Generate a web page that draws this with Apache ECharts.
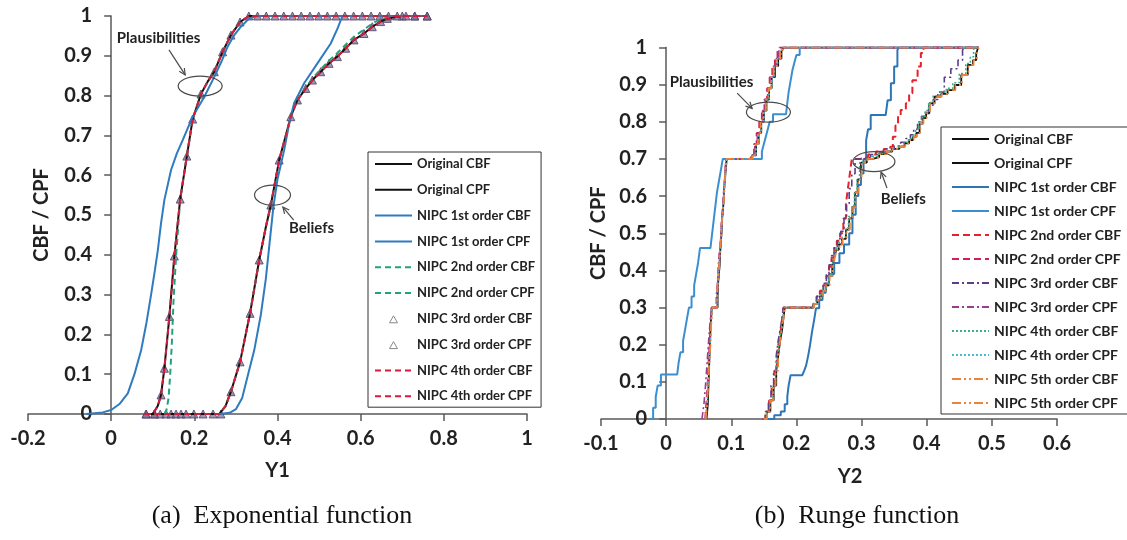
<!DOCTYPE html>
<html><head><meta charset="utf-8">
<script src="https://cdn.jsdelivr.net/npm/echarts@6/dist/echarts.min.js"></script>
<style>
html,body{margin:0;padding:0;background:#fff;width:1127px;height:540px;overflow:hidden}
#a{position:absolute;left:0;top:0;width:563px;height:540px}
#b{position:absolute;left:563px;top:0;width:564px;height:540px}
</style>
</head><body><div id="a"></div><div id="b"></div>
<script>
// ---------------- (a) Exponential function ----------------
const expNames = ['Original CBF','Original CPF','NIPC 1st order CBF','NIPC 1st order CPF','NIPC 2nd order CBF','NIPC 2nd order CPF','NIPC 3rd order CBF','NIPC 3rd order CPF','NIPC 4th order CBF','NIPC 4th order CPF'];
const expXTicks = {min:-0.2, max:1, interval:0.2};
const expOrigCBF = [[0.08,0],[0.26,0],[0.275,0.02],[0.288,0.056],[0.31,0.131],[0.334,0.253],[0.356,0.387],[0.372,0.47],[0.384,0.525],[0.404,0.638],[0.42,0.70],[0.432,0.747],[0.448,0.789],[0.468,0.818],[0.484,0.839],[0.504,0.86],[0.524,0.881],[0.544,0.898],[0.564,0.919],[0.584,0.94],[0.608,0.956],[0.628,0.973],[0.648,0.986],[0.664,0.994],[0.70,1],[0.76,1]];
const expOrigCPF = [[0.08,0],[0.10,0],[0.112,0.02],[0.12,0.048],[0.128,0.115],[0.14,0.245],[0.152,0.397],[0.166,0.54],[0.182,0.648],[0.196,0.741],[0.216,0.804],[0.232,0.835],[0.248,0.86],[0.268,0.91],[0.288,0.952],[0.31,0.985],[0.331,1],[0.76,1]];
const exp1CBF = [[0.26,0],[0.285,0.003],[0.30,0.012],[0.315,0.04],[0.328,0.094],[0.344,0.16],[0.36,0.25],[0.372,0.34],[0.382,0.44],[0.39,0.52],[0.40,0.59],[0.416,0.663],[0.43,0.74],[0.44,0.781],[0.464,0.831],[0.496,0.881],[0.528,0.931],[0.545,0.97],[0.556,1],[0.76,1]];
const exp1CPF = [[-0.06,0],[-0.04,0.002],[-0.02,0.004],[0,0.01],[0.02,0.025],[0.04,0.052],[0.056,0.1],[0.072,0.16],[0.085,0.23],[0.096,0.30],[0.105,0.36],[0.112,0.41],[0.12,0.48],[0.128,0.538],[0.144,0.613],[0.158,0.655],[0.172,0.688],[0.196,0.747],[0.224,0.797],[0.248,0.847],[0.265,0.885],[0.28,0.923],[0.296,0.952],[0.312,0.973],[0.332,0.994],[0.35,1],[0.60,1]];
const exp2CBF = [[0.08,0],[0.26,0],[0.275,0.02],[0.288,0.056],[0.31,0.131],[0.334,0.253],[0.356,0.387],[0.372,0.47],[0.384,0.525],[0.404,0.638],[0.42,0.70],[0.432,0.747],[0.448,0.789],[0.468,0.82],[0.484,0.843],[0.504,0.866],[0.524,0.888],[0.544,0.907],[0.564,0.928],[0.584,0.948],[0.608,0.966],[0.628,0.981],[0.648,0.992],[0.68,1],[0.76,1]];
const exp2CPF = [[0.08,0],[0.128,0],[0.133,0.01],[0.138,0.04],[0.142,0.10],[0.146,0.18],[0.15,0.286],[0.156,0.395],[0.166,0.54],[0.182,0.648],[0.196,0.741],[0.216,0.804],[0.232,0.835],[0.248,0.86],[0.268,0.91],[0.288,0.952],[0.31,0.985],[0.331,1],[0.76,1]];
const exp3CBF = [[0.084,0],[0.104,0],[0.118,0],[0.132,0],[0.144,0],[0.156,0],[0.168,0],[0.180,0],[0.199,0],[0.221,0],[0.245,0],[0.264,0],[0.288,0.056],[0.31,0.131],[0.334,0.253],[0.356,0.387],[0.384,0.525],[0.404,0.638],[0.432,0.747],[0.448,0.789],[0.468,0.818],[0.484,0.839],[0.504,0.86],[0.524,0.881],[0.544,0.898],[0.564,0.919],[0.584,0.94],[0.608,0.956],[0.628,0.973],[0.648,0.986],[0.664,0.994],[0.70,1],[0.73,1],[0.76,1]];
const exp3CPF = [[0.084,0],[0.104,0],[0.12,0.048],[0.128,0.115],[0.14,0.245],[0.152,0.397],[0.166,0.54],[0.182,0.648],[0.196,0.741],[0.216,0.804],[0.248,0.86],[0.268,0.91],[0.288,0.952],[0.31,0.985],[0.331,1],[0.352,1],[0.373,1],[0.394,1],[0.415,1],[0.436,1],[0.457,1],[0.478,1],[0.499,1],[0.52,1],[0.541,1],[0.562,1],[0.583,1],[0.604,1],[0.625,1],[0.646,1],[0.667,1],[0.688,1],[0.709,1],[0.73,1],[0.76,1]];
const exp4CBF = expOrigCBF;
const exp4CPF = expOrigCPF;

// ---------------- (b) Runge function ----------------
const runNames = ['Original CBF','Original CPF','NIPC 1st order CBF','NIPC 1st order CPF','NIPC 2nd order CBF','NIPC 2nd order CPF','NIPC 3rd order CBF','NIPC 3rd order CPF','NIPC 4th order CBF','NIPC 4th order CPF','NIPC 5th order CBF','NIPC 5th order CPF'];
const runXTicks = {min:-0.1, max:0.6, interval:0.1};
const runOrigCBF = [[0.15,0],[0.155,0.02],[0.16,0.05],[0.165,0.09],[0.169,0.13],[0.172,0.17],[0.175,0.21],[0.178,0.24],[0.18,0.27],[0.182,0.30],[0.226,0.31],[0.232,0.32],[0.236,0.33],[0.240,0.345],[0.245,0.36],[0.25,0.385],[0.255,0.41],[0.258,0.435],[0.261,0.455],[0.265,0.47],[0.27,0.485],[0.276,0.51],[0.281,0.54],[0.286,0.57],[0.290,0.61],[0.294,0.645],[0.299,0.69],[0.308,0.70],[0.317,0.705],[0.327,0.713],[0.337,0.72],[0.347,0.727],[0.358,0.733],[0.366,0.742],[0.373,0.751],[0.379,0.76],[0.384,0.77],[0.389,0.795],[0.394,0.81],[0.399,0.823],[0.404,0.85],[0.412,0.868],[0.422,0.875],[0.432,0.885],[0.443,0.899],[0.453,0.926],[0.463,0.953],[0.471,0.966],[0.476,0.984],[0.479,1],[0.48,1]];
const runOrigCPF = [[0.062,0],[0.064,0.04],[0.065,0.09],[0.066,0.14],[0.067,0.19],[0.068,0.24],[0.070,0.30],[0.079,0.33],[0.080,0.37],[0.082,0.41],[0.083,0.45],[0.085,0.50],[0.086,0.54],[0.088,0.58],[0.089,0.62],[0.091,0.66],[0.093,0.70],[0.132,0.71],[0.138,0.74],[0.142,0.77],[0.146,0.80],[0.150,0.83],[0.154,0.86],[0.158,0.89],[0.162,0.92],[0.167,0.95],[0.172,0.97],[0.177,0.99],[0.18,1],[0.48,1]];
const run1CBF = [[0.155,0],[0.166,0.01],[0.176,0.02],[0.182,0.04],[0.186,0.06],[0.188,0.09],[0.191,0.118],[0.209,0.118],[0.212,0.13],[0.215,0.145],[0.218,0.17],[0.221,0.2],[0.224,0.235],[0.227,0.265],[0.23,0.298],[0.235,0.32],[0.24,0.34],[0.245,0.365],[0.25,0.39],[0.258,0.42],[0.266,0.446],[0.273,0.47],[0.281,0.50],[0.286,0.55],[0.291,0.60],[0.295,0.63],[0.299,0.661],[0.303,0.70],[0.307,0.75],[0.31,0.78],[0.314,0.818],[0.337,0.818],[0.34,0.858],[0.345,0.904],[0.35,0.949],[0.355,0.993],[0.357,1],[0.48,1]];
const run1CPF = [[-0.025,0],[-0.02,0.03],[-0.016,0.06],[-0.013,0.09],[-0.008,0.12],[0.017,0.12],[0.019,0.15],[0.022,0.18],[0.026,0.21],[0.029,0.24],[0.032,0.27],[0.035,0.30],[0.039,0.33],[0.043,0.36],[0.046,0.39],[0.049,0.42],[0.052,0.46],[0.068,0.46],[0.07,0.49],[0.072,0.52],[0.074,0.55],[0.076,0.58],[0.078,0.61],[0.081,0.64],[0.084,0.67],[0.087,0.70],[0.142,0.70],[0.147,0.72],[0.150,0.74],[0.153,0.76],[0.156,0.78],[0.159,0.80],[0.164,0.82],[0.184,0.82],[0.186,0.85],[0.188,0.88],[0.191,0.91],[0.194,0.94],[0.197,0.96],[0.200,0.98],[0.205,1],[0.48,1]];
const run2CBF = [[0.148,0],[0.153,0.02],[0.158,0.05],[0.162,0.09],[0.166,0.13],[0.17,0.17],[0.173,0.21],[0.176,0.24],[0.178,0.27],[0.18,0.30],[0.226,0.31],[0.231,0.33],[0.236,0.345],[0.241,0.36],[0.246,0.385],[0.25,0.41],[0.254,0.435],[0.258,0.46],[0.262,0.48],[0.267,0.50],[0.272,0.54],[0.276,0.58],[0.279,0.62],[0.282,0.66],[0.285,0.70],[0.298,0.705],[0.31,0.712],[0.322,0.72],[0.334,0.727],[0.344,0.733],[0.348,0.76],[0.352,0.79],[0.356,0.815],[0.36,0.832],[0.368,0.85],[0.373,0.877],[0.378,0.912],[0.386,0.949],[0.391,0.985],[0.395,1],[0.48,1]];
const run2CPF = [[0.06,0],[0.062,0.05],[0.064,0.10],[0.065,0.15],[0.067,0.20],[0.068,0.25],[0.07,0.30],[0.078,0.32],[0.079,0.36],[0.081,0.40],[0.082,0.44],[0.084,0.48],[0.085,0.52],[0.087,0.56],[0.088,0.60],[0.09,0.64],[0.092,0.70],[0.13,0.71],[0.135,0.74],[0.139,0.77],[0.143,0.80],[0.147,0.83],[0.151,0.86],[0.155,0.89],[0.159,0.92],[0.163,0.95],[0.167,0.97],[0.171,0.99],[0.174,1],[0.48,1]];
const run3CBF = [[0.148,0],[0.152,0.02],[0.157,0.05],[0.161,0.09],[0.165,0.13],[0.169,0.17],[0.172,0.21],[0.175,0.24],[0.178,0.27],[0.18,0.30],[0.226,0.31],[0.231,0.33],[0.236,0.345],[0.241,0.365],[0.246,0.39],[0.25,0.415],[0.254,0.44],[0.258,0.465],[0.263,0.485],[0.268,0.505],[0.273,0.54],[0.277,0.58],[0.281,0.62],[0.285,0.66],[0.29,0.70],[0.302,0.705],[0.314,0.712],[0.326,0.72],[0.338,0.727],[0.35,0.735],[0.36,0.745],[0.368,0.755],[0.375,0.765],[0.38,0.78],[0.386,0.8],[0.392,0.815],[0.398,0.83],[0.404,0.845],[0.41,0.86],[0.417,0.88],[0.427,0.92],[0.437,0.943],[0.448,0.966],[0.455,0.993],[0.458,1],[0.48,1]];
const run3CPF = [[0.055,0],[0.058,0.04],[0.06,0.08],[0.062,0.13],[0.064,0.18],[0.066,0.23],[0.068,0.27],[0.07,0.30],[0.077,0.33],[0.079,0.37],[0.08,0.41],[0.082,0.45],[0.084,0.49],[0.085,0.53],[0.087,0.57],[0.089,0.61],[0.09,0.65],[0.092,0.70],[0.131,0.71],[0.136,0.74],[0.14,0.77],[0.144,0.80],[0.148,0.83],[0.152,0.86],[0.156,0.89],[0.16,0.92],[0.165,0.95],[0.169,0.97],[0.173,0.99],[0.176,1],[0.48,1]];
const run4CBF = [[0.149,0],[0.154,0.02],[0.159,0.05],[0.164,0.09],[0.168,0.13],[0.171,0.17],[0.174,0.21],[0.177,0.24],[0.179,0.27],[0.181,0.30],[0.226,0.31],[0.232,0.32],[0.236,0.335],[0.24,0.35],[0.245,0.365],[0.25,0.39],[0.255,0.415],[0.258,0.44],[0.261,0.46],[0.265,0.475],[0.27,0.49],[0.276,0.515],[0.28,0.545],[0.285,0.575],[0.289,0.61],[0.293,0.645],[0.297,0.69],[0.306,0.70],[0.316,0.707],[0.326,0.714],[0.336,0.72],[0.346,0.728],[0.356,0.735],[0.365,0.745],[0.372,0.755],[0.378,0.765],[0.383,0.78],[0.388,0.8],[0.393,0.815],[0.398,0.83],[0.403,0.852],[0.41,0.87],[0.42,0.88],[0.43,0.89],[0.44,0.905],[0.45,0.93],[0.46,0.957],[0.467,0.975],[0.472,1],[0.48,1]];
const run4CPF = [[0.06,0],[0.063,0.04],[0.064,0.09],[0.066,0.14],[0.067,0.19],[0.069,0.24],[0.07,0.30],[0.078,0.33],[0.08,0.37],[0.081,0.41],[0.083,0.45],[0.084,0.49],[0.086,0.53],[0.087,0.57],[0.089,0.61],[0.091,0.66],[0.093,0.70],[0.133,0.71],[0.138,0.74],[0.142,0.77],[0.146,0.80],[0.15,0.83],[0.154,0.86],[0.158,0.89],[0.162,0.92],[0.166,0.95],[0.171,0.97],[0.176,0.99],[0.179,1],[0.48,1]];
const run5CBF = [[0.15,0],[0.155,0.02],[0.16,0.05],[0.164,0.09],[0.168,0.13],[0.172,0.17],[0.175,0.21],[0.177,0.24],[0.18,0.27],[0.182,0.30],[0.227,0.31],[0.233,0.32],[0.237,0.33],[0.241,0.345],[0.246,0.36],[0.251,0.385],[0.256,0.41],[0.259,0.435],[0.262,0.455],[0.266,0.47],[0.271,0.485],[0.277,0.51],[0.282,0.54],[0.287,0.57],[0.291,0.61],[0.295,0.645],[0.3,0.69],[0.309,0.70],[0.318,0.705],[0.328,0.713],[0.338,0.72],[0.348,0.727],[0.359,0.733],[0.367,0.742],[0.374,0.751],[0.38,0.76],[0.385,0.77],[0.39,0.795],[0.395,0.81],[0.4,0.823],[0.405,0.85],[0.413,0.868],[0.423,0.875],[0.433,0.885],[0.444,0.899],[0.454,0.926],[0.464,0.953],[0.472,0.966],[0.477,0.984],[0.48,1]];
const run5CPF = [[0.061,0],[0.063,0.05],[0.065,0.1],[0.066,0.15],[0.068,0.2],[0.069,0.25],[0.071,0.30],[0.078,0.32],[0.079,0.36],[0.081,0.4],[0.082,0.44],[0.084,0.48],[0.085,0.52],[0.087,0.56],[0.089,0.6],[0.09,0.64],[0.092,0.70],[0.132,0.71],[0.137,0.74],[0.141,0.77],[0.145,0.80],[0.149,0.83],[0.153,0.86],[0.157,0.89],[0.161,0.92],[0.165,0.95],[0.17,0.97],[0.175,0.99],[0.179,1],[0.48,1]];

// annotations (data coordinates)
const expAnn = [
  {text:'Plausibilities', textAt:[0.114,0.945], tail:[0.139,0.915], head:[0.178,0.852], ellipse:[0.214,0.824], rx:22, ry:10},
  {text:'Beliefs', textAt:[0.482,0.467], tail:[0.439,0.487], head:[0.413,0.52], ellipse:[0.388,0.55], rx:18, ry:10}
];
const runAnn = [
  {text:'Plausibilities', textAt:[0.0697,0.908], tail:[0.109,0.877], head:[0.132,0.836], ellipse:[0.157,0.826], rx:22, ry:10},
  {text:'Beliefs', textAt:[0.364,0.592], tail:[0.339,0.622], head:[0.330,0.665], ellipse:[0.319,0.693], rx:21, ry:10}
];

// ---------------- helpers ----------------
const FONT = 'Lato';
const AX = '#5a5a5a';
function lineS(name, data, color, type, width, step){
  return {name, type:'line', data, symbol:'none', showSymbol:false, step: step || false, smooth:false,
    lineStyle:{color, type: type || 'solid', width: width || 2}, itemStyle:{color}, emphasis:{disabled:true}};
}
function triS(name, data){
  return {name, type:'scatter', data, symbol:'triangle', symbolSize:8,
    itemStyle:{color:'rgba(125,108,150,0.9)', borderColor:'#4f4062', borderWidth:1}, emphasis:{disabled:true}};
}
function xAxisCfg(t, name, gap, pad){
  return {type:'value', min:t.min, max:t.max, interval:t.interval, name, nameLocation:'middle', nameGap:gap,
    nameTextStyle:{fontFamily:FONT, fontWeight:'bold', fontSize:20, color:'#222', padding:pad||0},
    axisLine:{onZero:false, lineStyle:{color:AX, width:1.5}},
    axisTick:{show:true, length:7, lineStyle:{color:AX, width:1.5}},
    axisLabel:{margin:15, fontFamily:FONT, fontWeight:'bold', fontSize:20, color:'#222'},
    splitLine:{show:false}};
}
// y axis sits at x = 0: shift it from the grid's left edge by the share of the x range below zero
function yAxisCfg(gap, t, gridWidth){
  const shift = gridWidth * (0 - t.min) / (t.max - t.min);
  return {type:'value', min:0, max:1, interval:0.1, name:'CBF / CPF', nameLocation:'middle', nameGap:gap, nameRotate:90,
    offset:-shift,
    nameTextStyle:{fontFamily:FONT, fontWeight:'bold', fontSize:20, color:'#222'},
    axisLine:{show:true, onZero:false, lineStyle:{color:AX, width:1.5}},
    axisTick:{show:true, length:7, lineStyle:{color:AX, width:1.5}},
    axisLabel:{margin:19, fontFamily:FONT, fontWeight:'bold', fontSize:20, color:'#222'},
    splitLine:{show:false}};
}
function legendCfg(names, left, top, gap, pad, fs, special){
  return {orient:'vertical', left, top, itemWidth:37, itemHeight:8, itemGap:gap, padding:pad,
    borderColor:'#333', borderWidth:1, backgroundColor:'#fff', selectedMode:false,
    itemStyle:{opacity:0},
    textStyle:{fontFamily:FONT, fontWeight:'bold', fontSize:fs, color:'#222', lineHeight:14},
    data: names.map(n => special && special[n] ? Object.assign({name:n}, special[n]) : n)};
}
function annEls(chart, list){
  const els = [];
  const st = {stroke:'#4a4a4a', lineWidth:1.2, fill:'none'};
  list.forEach(a => {
    const e = chart.convertToPixel({gridIndex:0}, a.ellipse);
    els.push({type:'ellipse', shape:{cx:e[0], cy:e[1], rx:a.rx, ry:a.ry}, style:Object.assign({}, st), z:50});
    const t = chart.convertToPixel({gridIndex:0}, a.tail);
    const h = chart.convertToPixel({gridIndex:0}, a.head);
    els.push({type:'line', shape:{x1:t[0], y1:t[1], x2:h[0], y2:h[1]}, style:Object.assign({}, st), z:50});
    const ang = Math.atan2(h[1]-t[1], h[0]-t[0]), L = 7, s = 0.45;
    els.push({type:'polyline', shape:{points:[[h[0]-L*Math.cos(ang-s), h[1]-L*Math.sin(ang-s)], [h[0],h[1]], [h[0]-L*Math.cos(ang+s), h[1]-L*Math.sin(ang+s)]]}, style:Object.assign({}, st), z:50});
    const p = chart.convertToPixel({gridIndex:0}, a.textAt);
    els.push({type:'text', x:p[0], y:p[1], style:{text:a.text, fontSize:15, fontWeight:'bold', fontFamily:FONT, fill:'#222', align:'center', verticalAlign:'middle'}, z:50});
  });
  return els;
}
function caption(text, x){
  return {type:'text', x, y:516, style:{text, fontSize:26, fontFamily:'Liberation Serif', fill:'#111', align:'center', verticalAlign:'middle'}, z:50};
}
// small hollow triangle centred in the 37x8 legend icon box
const TRI_LEG = {icon:'path://M0,0L0,0M37,8L37,8M14.5,8L18.5,1L22.5,8Z', itemStyle:{opacity:1, color:'#fff', borderColor:'#888', borderWidth:1}};

// ---------------- chart (a) ----------------
const cA = echarts.init(document.getElementById('a'), null, {renderer:'canvas'});
const BLUE = '#2f7bbf';
const gA = {left:28, right:36, top:16, bottom:126};
cA.setOption({
  animation:false, backgroundColor:'#fff',
  grid:Object.assign({containLabel:false, outerBoundsMode:'none'}, gA),
  xAxis: xAxisCfg(expXTicks, 'Y1', 47),
  yAxis: yAxisCfg(60, expXTicks, 563 - gA.left - gA.right),
  legend: legendCfg(expNames, 368, 152, 11.8, [5,6,4,6], 13, {
    'NIPC 3rd order CBF': TRI_LEG, 'NIPC 3rd order CPF': TRI_LEG
  }),
  series:[
    lineS(expNames[0], expOrigCBF, '#111', 'solid', 2),
    lineS(expNames[1], expOrigCPF, '#111', 'solid', 2),
    lineS(expNames[2], exp1CBF, BLUE, 'solid', 2),
    lineS(expNames[3], exp1CPF, BLUE, 'solid', 2),
    lineS(expNames[4], exp2CBF, '#1fa37a', [6,4], 2),
    lineS(expNames[5], exp2CPF, '#1fa37a', [6,4], 2),
    triS(expNames[6], exp3CBF),
    triS(expNames[7], exp3CPF),
    lineS(expNames[8], exp4CBF, '#d81b3c', [6,4], 2),
    lineS(expNames[9], exp4CPF, '#d81b3c', [6,4], 2)
  ]
});
cA.setOption({graphic: annEls(cA, expAnn).concat([caption('(a)  Exponential function', 282)])});

// ---------------- chart (b) ----------------
const cB = echarts.init(document.getElementById('b'), null, {renderer:'canvas'});
const gB = {left:38, right:70, top:47.5, bottom:121};
cB.setOption({
  animation:false, backgroundColor:'#fff',
  grid:Object.assign({containLabel:false, outerBoundsMode:'none'}, gB),
  xAxis: xAxisCfg(runXTicks, 'Y2', 48, [0,0,0,42]),
  yAxis: yAxisCfg(58, runXTicks, 564 - gB.left - gB.right),
  legend: legendCfg(runNames, 378, 127, 10, [5,8,4,10], 14),
  series:[
    lineS(runNames[0], runOrigCBF, '#111', 'solid', 1.8, 'end'),
    lineS(runNames[1], runOrigCPF, '#111', 'solid', 1.8, 'end'),
    lineS(runNames[2], run1CBF, '#2e75b6', 'solid', 2, 'end'),
    lineS(runNames[3], run1CPF, '#3a8fd0', 'solid', 2, 'end'),
    lineS(runNames[4], run2CBF, '#e8202a', [7,4], 2, 'end'),
    lineS(runNames[5], run2CPF, '#d0205a', [7,4], 2, 'end'),
    lineS(runNames[6], run3CBF, '#5e3c8a', [7,3,2,3], 1.6, 'end'),
    lineS(runNames[7], run3CPF, '#9b3c8e', [7,3,2,3], 1.6, 'end'),
    lineS(runNames[8], run4CBF, '#3db08a', [2,2], 1.6, 'end'),
    lineS(runNames[9], run4CPF, '#40bfd0', [2,2], 1.6, 'end'),
    lineS(runNames[10], run5CBF, '#e8843c', [9,3,2,3,2,3], 1.8, 'end'),
    lineS(runNames[11], run5CPF, '#e8843c', [9,3,2,3,2,3], 1.8, 'end')
  ]
});
cB.setOption({graphic: annEls(cB, runAnn).concat([caption('(b)  Runge function', 294)])});
</script>
</body></html>
